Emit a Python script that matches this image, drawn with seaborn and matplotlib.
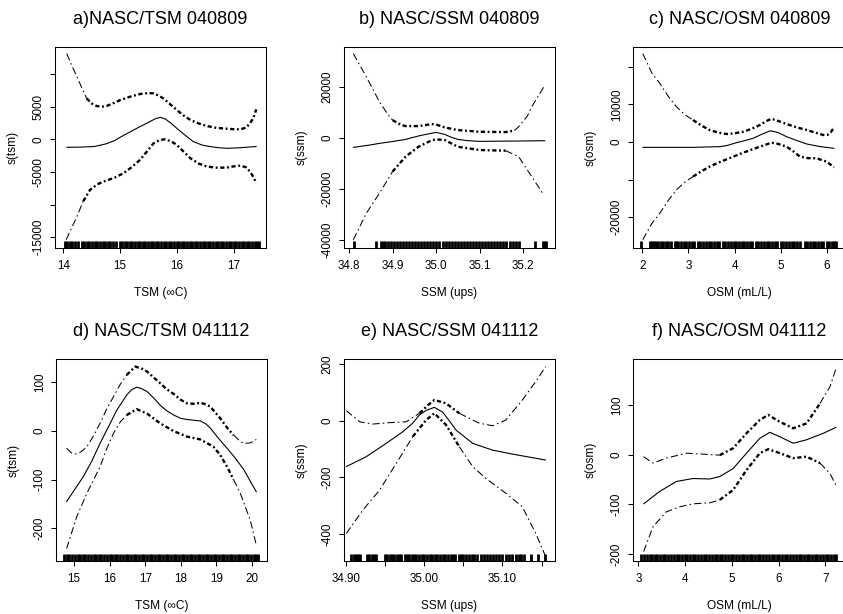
import numpy as np
import matplotlib
matplotlib.use("Agg")
import matplotlib.pyplot as plt
import seaborn as sns

# ---------------- data ----------------
titles = ["a)NASC/TSM 040809", "b) NASC/SSM 040809", "c) NASC/OSM 040809",
          "d) NASC/TSM 041112", "e) NASC/SSM 041112", "f) NASC/OSM 041112"]
xlabels = ["TSM (\u221eC)", "SSM (ups)", "OSM (mL/L)",
           "TSM (\u221eC)", "SSM (ups)", "OSM (mL/L)"]
ylabels = ["s(tsm)", "s(ssm)", "s(osm)", "s(tsm)", "s(ssm)", "s(osm)"]

# panel a
a_fit_x = [14.06, 14.3, 14.55, 14.75, 14.9, 15.06, 15.2, 15.35, 15.5, 15.62, 15.71, 15.8, 15.9, 16.0, 16.15, 16.29, 16.45, 16.59, 16.75, 16.88, 17.1, 17.4]
a_fit_y = [-1224, -1200, -1100, -700, -200, 600, 1250, 1940, 2600, 3150, 3370, 3100, 2450, 1680, 600, -350, -900, -1120, -1300, -1380, -1300, -1100]
a_up_x = [14.06, 14.15, 14.24, 14.33, 14.41, 14.5, 14.59, 14.68, 14.76, 14.9, 15.0, 15.2, 15.35, 15.5, 15.59, 15.68, 15.76, 15.88, 16.0, 16.12, 16.24, 16.38, 16.53, 16.7, 16.88, 17.0, 17.12, 17.22, 17.29, 17.35, 17.4]
a_up_y = [13160, 11300, 9600, 7800, 6280, 5500, 5100, 5000, 5100, 5600, 6020, 6600, 6940, 7100, 7040, 6700, 6280, 5400, 4490, 3650, 2960, 2450, 2040, 1750, 1630, 1550, 1530, 1800, 2450, 3300, 4590]
a_lo_x = [14.05, 14.15, 14.24, 14.35, 14.47, 14.6, 14.71, 14.9, 15.06, 15.2, 15.35, 15.47, 15.59, 15.7, 15.79, 15.9, 16.0, 16.12, 16.24, 16.38, 16.53, 16.7, 16.88, 17.0, 17.12, 17.22, 17.29, 17.35, 17.4]
a_lo_y = [-15400, -13500, -11840, -9500, -7760, -6900, -6480, -5900, -5200, -4300, -3160, -1900, -610, -100, 0, -300, -870, -1900, -2910, -3700, -4180, -4350, -4340, -4150, -4030, -4300, -4950, -5800, -6740]
a_rug = [14.03, 14.07, 14.12, 14.16, 14.21, 14.25, 14.33, 14.37, 14.42, 14.46, 14.51, 14.55, 14.60, 14.65, 14.69, 14.74, 14.78, 14.83, 14.88, 14.92, 14.99, 15.03, 15.08, 15.12, 15.17, 15.21, 15.26, 15.31, 15.35, 15.40, 15.44, 15.49, 15.54, 15.58, 15.63, 15.67, 15.72, 15.77, 15.81, 15.86, 15.90, 15.95, 16.00, 16.04, 16.09, 16.13, 16.18, 16.23, 16.27, 16.32, 16.36, 16.41, 16.46, 16.50, 16.55, 16.59, 16.64, 16.69, 16.73, 16.78, 16.82, 16.87, 16.92, 16.96, 17.01, 17.05, 17.10, 17.15, 17.19, 17.24, 17.28, 17.33, 17.38, 17.42, 17.45]

# panel b
b_fit_x = [34.81, 34.85, 34.87, 34.9, 34.93, 34.96, 34.98, 35.0, 35.02, 35.035, 35.05, 35.07, 35.1, 35.14, 35.18, 35.25]
b_fit_y = [-3780, -2800, -2215, -1500, -650, 700, 1430, 2085, 1300, 200, -650, -1100, -1430, -1350, -1300, -1170]
b_up_x = [34.81, 34.84, 34.87, 34.89, 34.9, 34.92, 34.93, 34.96, 34.99, 35.0, 35.02, 35.05, 35.1, 35.16, 35.18, 35.19, 35.21, 35.22, 35.25]
b_up_y = [32960, 23840, 14070, 9000, 6900, 5000, 4560, 4560, 5340, 5200, 4040, 3000, 2340, 2215, 2800, 4300, 8500, 12100, 20590]
b_lo_x = [34.81, 34.84, 34.87, 34.9, 34.93, 34.96, 34.99, 35.0, 35.02, 35.05, 35.1, 35.16, 35.19, 35.22, 35.245]
b_lo_y = [-40000, -29580, -21760, -13290, -7430, -3520, -1000, -650, -910, -3520, -4820, -5080, -7430, -15240, -21760]
b_rug = [34.812, 34.862, 34.874, 34.878, 34.882, 34.889, 34.896, 34.903, 34.910, 34.917, 34.924, 34.931, 34.938, 34.945, 34.952, 34.959, 34.966, 34.973, 34.980, 34.987, 34.994, 35.001, 35.008, 35.015, 35.022, 35.029, 35.036, 35.043, 35.050, 35.057, 35.064, 35.071, 35.078, 35.085, 35.092, 35.099, 35.106, 35.113, 35.120, 35.127, 35.134, 35.141, 35.148, 35.155, 35.162, 35.169, 35.176, 35.183, 35.190, 35.228, 35.245, 35.249, 35.252]

# panel c
c_fit_x = [2.01, 2.5, 3.1, 3.68, 3.85, 4.04, 4.2, 4.4, 4.6, 4.78, 4.95, 5.13, 5.35, 5.57, 5.85, 6.16]
c_fit_y = [-1420, -1420, -1420, -1240, -900, -180, 300, 970, 2100, 3010, 2500, 1420, 400, -530, -1200, -1680]
c_up_x = [2.01, 2.2, 2.38, 2.56, 2.74, 2.92, 3.1, 3.28, 3.46, 3.65, 3.83, 4.0, 4.19, 4.37, 4.55, 4.68, 4.8, 4.95, 5.13, 5.35, 5.57, 5.75, 5.93, 6.02, 6.09, 6.17]
c_up_y = [23540, 18500, 15580, 12200, 9380, 7300, 5840, 4400, 3190, 2500, 2120, 2300, 2740, 3500, 4510, 5500, 6200, 5600, 4780, 3900, 3190, 2500, 1860, 1900, 2600, 4070]
c_lo_x = [2.01, 2.2, 2.38, 2.56, 2.74, 2.92, 3.1, 3.28, 3.46, 3.65, 3.83, 4.19, 4.55, 4.8, 4.95, 5.13, 5.28, 5.42, 5.6, 5.78, 6.0, 6.16]
c_lo_y = [-26020, -21800, -18940, -15600, -12740, -10700, -9200, -7800, -6550, -5500, -4600, -2830, -1240, -180, -500, -1240, -2500, -3890, -4300, -4340, -5220, -6730]
c_rug = [1.98, 2.16, 2.20, 2.25, 2.30, 2.35, 2.40, 2.45, 2.51, 2.56, 2.63, 2.70, 2.74, 2.78, 2.84, 2.90, 2.95, 3.02, 3.08, 3.13, 3.20, 3.26, 3.31, 3.38, 3.44, 3.49, 3.56, 3.62, 3.67, 3.74, 3.80, 3.85, 3.92, 3.98, 4.03, 4.10, 4.16, 4.21, 4.28, 4.34, 4.39, 4.46, 4.52, 4.57, 4.64, 4.70, 4.75, 4.82, 4.88, 4.93, 5.00, 5.06, 5.11, 5.18, 5.24, 5.29, 5.36, 5.42, 5.53, 5.58, 5.64, 5.70, 5.75, 5.82, 5.88, 5.93, 6.00, 6.06, 6.11, 6.17, 6.21]

# panel d
d_fit_x = [14.79, 15.26, 15.5, 15.73, 15.98, 16.2, 16.48, 16.62, 16.76, 16.9, 17.05, 17.25, 17.42, 17.6, 17.8, 18.0, 18.17, 18.4, 18.55, 18.7, 18.83, 19.05, 19.3, 19.55, 19.77, 20.12]
d_fit_y = [-145, -94, -62, -26, 10, 42, 73, 84, 89, 86, 80, 66, 52, 41, 32, 25, 23, 21, 20, 14, 5, -15, -36, -58, -80, -125]
d_up_x = [14.79, 14.92, 15.03, 15.2, 15.36, 15.55, 15.73, 15.9, 16.11, 16.3, 16.48, 16.72, 16.9, 17.05, 17.25, 17.42, 17.6, 17.8, 18.0, 18.17, 18.35, 18.55, 18.7, 18.83, 19.11, 19.3, 19.48, 19.67, 19.77, 19.95, 20.12]
d_up_y = [-36, -45, -48, -43, -33, -10, 15, 42, 70, 95, 114, 131, 127, 121, 108, 97, 85, 75, 63, 56, 55, 57, 54, 49, 25, 6, -9, -22, -26, -25, -18]
d_lo_x = [14.79, 15.075, 15.36, 15.73, 15.9, 16.11, 16.3, 16.48, 16.76, 17.05, 17.42, 17.8, 18.17, 18.55, 18.92, 19.11, 19.3, 19.48, 19.67, 19.95, 20.12]
d_lo_y = [-241, -176, -128, -74, -40, -5, 18, 32, 44, 35, 15, -1, -12, -18, -33, -50, -74, -100, -128, -183, -234]
d_rug = [14.72, 14.80, 14.87, 14.95, 15.02, 15.10, 15.17, 15.25, 15.32, 15.40, 15.47, 15.55, 15.62, 15.70, 15.77, 15.85, 15.92, 16.00, 16.07, 16.15, 16.22, 16.30, 16.37, 16.45, 16.52, 16.60, 16.67, 16.75, 16.82, 16.90, 16.97, 17.05, 17.12, 17.20, 17.27, 17.35, 17.42, 17.50, 17.57, 17.65, 17.72, 17.80, 17.87, 17.95, 18.02, 18.10, 18.17, 18.25, 18.32, 18.40, 18.47, 18.55, 18.62, 18.70, 18.77, 18.85, 18.92, 19.00, 19.07, 19.15, 19.22, 19.30, 19.37, 19.45, 19.52, 19.60, 19.67, 19.75, 19.82, 19.90, 19.97, 20.05, 20.12, 20.18]

# panel e
e_fit_x = [34.9008, 34.9263, 34.9517, 34.9729, 34.985, 34.9941, 35.0025, 35.0131, 35.0237, 35.032, 35.0407, 35.0619, 35.0873, 35.1127, 35.1551]
e_fit_y = [-162, -127, -80, -39, -10, 20, 36, 47, 30, 0, -33, -80, -104, -118, -139]
e_up_x = [34.9008, 34.9178, 34.9347, 34.9559, 34.9771, 34.9941, 35.005, 35.0131, 35.028, 35.0449, 35.0703, 35.0873, 35.1042, 35.1254, 35.1424, 35.1551]
e_up_y = [35, -4, -12, -7, -4, 26, 55, 73, 61, 26, -9, -18, 2, 73, 138, 191]
e_lo_x = [34.9008, 34.922, 34.9432, 34.9644, 34.9856, 35.0025, 35.0131, 35.028, 35.0449, 35.0619, 35.0788, 35.1042, 35.1254, 35.1424, 35.1551]
e_lo_y = [-398, -315, -245, -151, -56, 2, 26, -15, -92, -162, -204, -256, -304, -398, -480]
e_rug = [34.907, 34.910, 34.913, 34.916, 34.918, 34.927, 34.930, 34.933, 34.936, 34.939, 34.950, 34.953, 34.956, 34.959, 34.962, 34.965, 34.968, 34.971, 34.975, 34.978, 34.981, 34.984, 34.987, 34.990, 34.994, 34.997, 35.000, 35.004, 35.007, 35.010, 35.014, 35.017, 35.020, 35.024, 35.027, 35.030, 35.034, 35.037, 35.040, 35.044, 35.047, 35.050, 35.054, 35.057, 35.061, 35.064, 35.068, 35.072, 35.076, 35.080, 35.084, 35.088, 35.092, 35.096, 35.100, 35.104, 35.108, 35.112, 35.117, 35.121, 35.124, 35.128, 35.137, 35.145, 35.154]

# panel f
f_fit_x = [3.114, 3.457, 3.814, 4.171, 4.529, 4.743, 5.029, 5.314, 5.6, 5.814, 6.029, 6.314, 6.6, 6.957, 7.229]
f_fit_y = [-99, -74, -54, -48, -49, -44, -28, 3, 33, 45, 36, 23, 30, 43, 55]
f_up_x = [3.114, 3.314, 3.6, 4.029, 4.386, 4.743, 5.029, 5.314, 5.6, 5.779, 6.029, 6.314, 6.6, 6.886, 7.1, 7.243]
f_up_y = [-4, -17, -7, 3, 1, -1, 13, 43, 70, 80, 66, 53, 63, 103, 137, 177]
f_lo_x = [3.114, 3.314, 3.6, 3.886, 4.171, 4.529, 4.743, 5.029, 5.314, 5.6, 5.779, 6.029, 6.314, 6.6, 6.886, 7.1, 7.243]
f_lo_y = [-195, -145, -115, -105, -99, -97, -91, -71, -31, 3, 11, 3, -7, -4, -17, -38, -64]
f_rug = [3.06, 3.12, 3.18, 3.24, 3.29, 3.35, 3.41, 3.47, 3.53, 3.58, 3.64, 3.70, 3.76, 3.82, 3.87, 3.93, 3.99, 4.05, 4.11, 4.16, 4.22, 4.28, 4.34, 4.40, 4.45, 4.51, 4.57, 4.63, 4.69, 4.74, 4.80, 4.86, 4.92, 4.98, 5.03, 5.09, 5.15, 5.21, 5.27, 5.32, 5.38, 5.44, 5.50, 5.56, 5.61, 5.67, 5.73, 5.79, 5.85, 5.90, 5.96, 6.02, 6.08, 6.14, 6.19, 6.25, 6.31, 6.37, 6.43, 6.48, 6.54, 6.60, 6.66, 6.72, 6.77, 6.83, 6.89, 6.95, 7.01, 7.06, 7.12, 7.18, 7.23]

# tick values and labels
xticks = [[14, 15, 16, 17], [34.8, 34.9, 35.0, 35.1, 35.2], [2, 3, 4, 5, 6],
          [15, 16, 17, 18, 19, 20], [34.90, 34.95, 35.00, 35.05, 35.10, 35.15], [3, 4, 5, 6, 7]]
xticklabels = [["14", "15", "16", "17"], ["34.8", "34.9", "35.0", "35.1", "35.2"],
               ["2", "3", "4", "5", "6"], ["15", "16", "17", "18", "19", "20"],
               ["34.90", "", "35.00", "", "35.10", ""], ["3", "4", "5", "6", "7"]]
yticks = [[-15000, -10000, -5000, 0, 5000, 10000], [-40000, -20000, 0, 20000],
          [-20000, -10000, 0, 10000, 20000], [-200, -100, 0, 100],
          [-400, -200, 0, 200], [-200, -100, 0, 100]]
yticklabels = [["-15000", "", "-5000", "0", "5000", ""], ["-40000", "-20000", "0", "20000"],
               ["-20000", "", "0", "10000", ""], ["-200", "-100", "0", "100"],
               ["-400", "-200", "0", "200"], ["-200", "-100", "0", "100"]]

fits = [(a_fit_x, a_fit_y), (b_fit_x, b_fit_y), (c_fit_x, c_fit_y),
        (d_fit_x, d_fit_y), (e_fit_x, e_fit_y), (f_fit_x, f_fit_y)]
ups = [(a_up_x, a_up_y), (b_up_x, b_up_y), (c_up_x, c_up_y),
       (d_up_x, d_up_y), (e_up_x, e_up_y), (f_up_x, f_up_y)]
los = [(a_lo_x, a_lo_y), (b_lo_x, b_lo_y), (c_lo_x, c_lo_y),
       (d_lo_x, d_lo_y), (e_lo_x, e_lo_y), (f_lo_x, f_lo_y)]
rugs = [a_rug, b_rug, c_rug, d_rug, e_rug, f_rug]

# ---------------- layout / style ----------------
W, H = 843, 614
boxes = [(55, 47, 266, 248), (344, 47, 555, 248), (633, 47, 846, 248),
         (56, 359, 267, 561), (344, 359, 555, 561), (633, 359, 846, 561)]
xlims = [(13.853, 17.571), (34.7885, 35.2735), (1.797, 6.42),
         (14.493, 20.42), (34.8978, 35.167), (2.886, 7.443)]
ylims = [(-16670, 14160), (-43230, 35570), (-28220, 25300),
         (-266.5, 146.6), (-495.3, 217.6), (-214.1, 192.6)]
dense = [(14.35, 17.42), (34.9, 35.18), (3.0, 6.17),
         (16.4, 19.5), (34.985, 35.05), (4.7, 6.95)]

sns.set_theme(style="white")
plt.rcParams['font.family'] = ['Liberation Sans', 'DejaVu Sans']

fig = plt.figure(figsize=(W / 100, H / 100), dpi=100)

thin_kw = dict(color="black", lw=0.75, linestyle=(0, (7, 3, 1.5, 3)))
thick_kw = dict(color="black", lw=1.7, linestyle=(0, (1.8, 1.1, 0.8, 1.1)))


def draw_band(ax, xs, ys, lo, hi):
    xs = np.asarray(xs, float)
    ys = np.asarray(ys, float)
    inside = np.where((xs >= lo) & (xs <= hi))[0]
    i0, i1 = inside[0], inside[-1]
    if i0 > 0:
        sns.lineplot(x=xs[:i0 + 1], y=ys[:i0 + 1], ax=ax, sort=False, estimator=None, **thin_kw)
    sns.lineplot(x=xs[i0:i1 + 1], y=ys[i0:i1 + 1], ax=ax, sort=False, estimator=None, **thick_kw)
    if i1 < len(xs) - 1:
        sns.lineplot(x=xs[i1:], y=ys[i1:], ax=ax, sort=False, estimator=None, **thin_kw)


for i in range(6):
    l, t, r, b = boxes[i]
    ax = fig.add_axes([l / W, 1 - b / H, (r - l) / W, (b - t) / H])
    fx, fy = fits[i]
    sns.lineplot(x=fx, y=fy, ax=ax, sort=False, estimator=None, color="black", lw=0.8)
    draw_band(ax, *ups[i], *dense[i])
    draw_band(ax, *los[i], *dense[i])
    sns.rugplot(x=rugs[i], ax=ax, height=0.035, color="black", linewidth=2.0,
                expand_margins=False)

    ax.set_xlim(*xlims[i])
    ax.set_ylim(*ylims[i])
    ax.set_xticks(xticks[i])
    ax.set_xticklabels(xticklabels[i])
    ax.set_yticks(yticks[i])
    ax.set_yticklabels(yticklabels[i], rotation=90, va="center")
    ax.tick_params(axis="both", which="major", direction="out", length=3.6, width=0.75,
                   colors="black", labelsize=8.4, bottom=True, left=True)
    ax.tick_params(axis="x", pad=5.0)
    ax.tick_params(axis="y", pad=3.8)
    for s in ax.spines.values():
        s.set_color("black")
        s.set_linewidth(0.75)
        s.set_visible(True)
    ax.grid(False)
    ax.set_title(titles[i], fontsize=13, pad=16.5, color="black")
    ax.set_xlabel(xlabels[i], fontsize=8.6, color="black")
    ax.set_ylabel(ylabels[i], fontsize=8.6, color="black")
    hh = b - t
    ww = r - l
    ax.xaxis.set_label_coords(0.5, -45 / hh)
    ax.xaxis.label.set_va("center")
    ax.yaxis.set_label_coords(-42 / ww, 0.5)
    ax.yaxis.label.set_va("center")

fig.savefig("out.png", dpi=100)
